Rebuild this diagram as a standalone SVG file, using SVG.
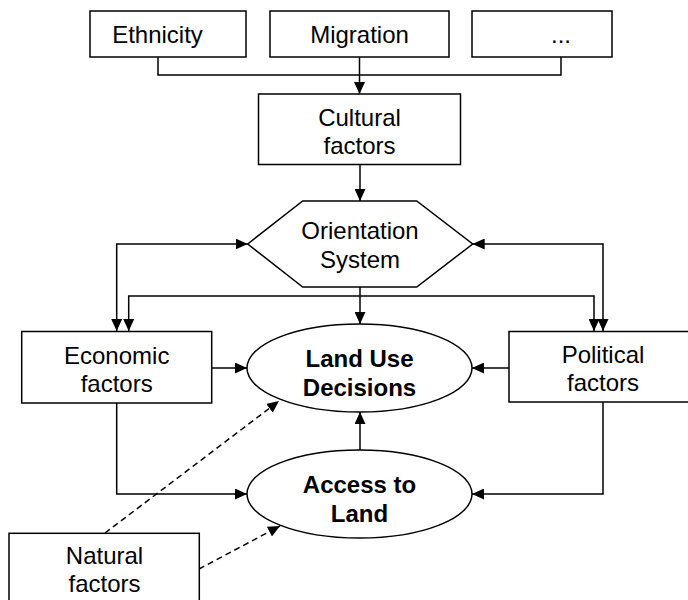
<svg xmlns="http://www.w3.org/2000/svg" width="688" height="600" viewBox="0 0 688 600">
<style>
.box{fill:#fff;stroke:#000;stroke-width:1.5}
.t{font-family:"Liberation Sans",Arial,sans-serif;font-size:24px;fill:#000;text-anchor:middle}
.b{font-weight:bold}
.c{fill:none;stroke:#000;stroke-width:1.5}
.d{stroke-dasharray:6,4}
</style>
<defs>
<marker id="ah" markerWidth="12" markerHeight="11" refX="12" refY="5.5" orient="auto-start-reverse" markerUnits="userSpaceOnUse">
<path d="M0,0 L12,5.5 L0,11 Z" fill="#000"/>
</marker>
</defs>
<rect width="688" height="600" fill="#fff"/>
<g id="connectors">
<path class="c" d="M158,57 V75 H561 V57"/>
<path class="c" d="M359.5,57 V94" marker-end="url(#ah)"/>
<path class="c" d="M360,165 V201" marker-end="url(#ah)"/>
<path class="c" d="M116.7,331 V244 H247.7" marker-start="url(#ah)" marker-end="url(#ah)"/>
<path class="c" d="M603,331 V244 H472.7" marker-start="url(#ah)" marker-end="url(#ah)"/>
<path class="c" d="M128.7,331 V296 H594 V331" marker-start="url(#ah)" marker-end="url(#ah)"/>
<path class="c" d="M360,287 V324" marker-end="url(#ah)"/>
<path class="c" d="M212,368 H247" marker-end="url(#ah)"/>
<path class="c" d="M509,368 H472" marker-end="url(#ah)"/>
<path class="c" d="M116.7,403 V494 H247" marker-end="url(#ah)"/>
<path class="c" d="M603,402 V494 H472" marker-end="url(#ah)"/>
<path class="c" d="M360,450 V412" marker-end="url(#ah)"/>
<path class="c d" d="M105,533 L279,401" marker-end="url(#ah)"/>
<path class="c d" d="M199,569 L280,526" marker-end="url(#ah)"/>
</g>
<g id="ethnicity"><rect class="box" x="90" y="11" width="156" height="46"/><text class="t" x="157.5" y="43">Ethnicity</text></g>
<g id="migration"><rect class="box" x="270" y="11" width="179" height="46"/><text class="t" x="359.5" y="43">Migration</text></g>
<g id="more"><rect class="box" x="472" y="11" width="140" height="46"/><text class="t" x="561" y="43">...</text></g>
<g id="cultural"><rect class="box" x="258.5" y="94" width="202" height="70.5"/><text class="t" x="359.5" y="126">Cultural</text><text class="t" x="359.5" y="154">factors</text></g>
<g id="orientation"><polygon class="box" points="247.7,244 302.7,201 416.7,201 472.7,244 416.7,287 302.7,287"/><text class="t" x="360" y="239">Orientation</text><text class="t" x="360" y="268">System</text></g>
<g id="economic"><rect class="box" x="21.7" y="331.5" width="190" height="71.5"/><text class="t" x="116.7" y="364.3">Economic</text><text class="t" x="116.7" y="391.7">factors</text></g>
<g id="political"><rect class="box" x="509" y="331.5" width="189" height="70.5"/><text class="t" x="603" y="362.7">Political</text><text class="t" x="603" y="390.7">factors</text></g>
<g id="landuse"><ellipse class="box" cx="359.5" cy="368" rx="112.5" ry="44"/><text class="t b" x="359.5" y="366.7">Land Use</text><text class="t b" x="359.5" y="396">Decisions</text></g>
<g id="access"><ellipse class="box" cx="359.5" cy="494" rx="112.5" ry="44"/><text class="t b" x="359.5" y="493.3">Access to</text><text class="t b" x="359.5" y="522.3">Land</text></g>
<g id="natural"><rect class="box" x="9" y="533.3" width="190.3" height="72"/><text class="t" x="104.5" y="564.3">Natural</text><text class="t" x="104.5" y="591.7">factors</text></g>
</svg>
